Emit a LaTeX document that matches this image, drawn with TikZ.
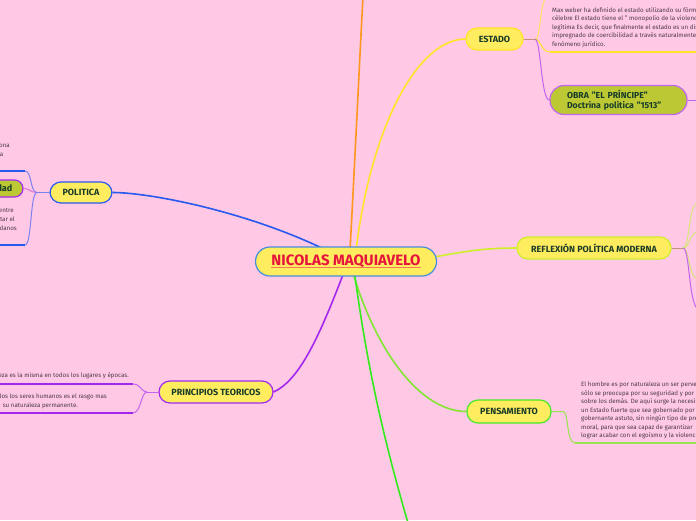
\documentclass[tikz,border=0pt]{standalone}
\usepackage{fontspec}
\setmainfont{Fira Sans}
\usetikzlibrary{calc}
\definecolor{bgpink}{RGB}{255,200,228}
\definecolor{nodeyel}{RGB}{255,236,95}
\definecolor{txtgreen}{RGB}{25,60,40}
\definecolor{olive}{RGB}{188,201,52}
\definecolor{cblue}{RGB}{70,140,220}
\definecolor{pblue}{RGB}{40,90,240}
\definecolor{lblue}{RGB}{125,130,240}
\definecolor{orng}{RGB}{255,150,30}
\definecolor{yel}{RGB}{255,228,40}
\definecolor{lyel}{RGB}{255,225,100}
\definecolor{purp}{RGB}{165,40,240}
\definecolor{lpurp}{RGB}{195,100,240}
\definecolor{pinkp}{RGB}{225,110,220}
\definecolor{grn}{RGB}{50,235,30}
\definecolor{pgrn}{RGB}{130,230,50}
\definecolor{lgrn}{RGB}{150,228,80}
\definecolor{ygrn}{RGB}{205,240,40}
\definecolor{lygrn}{RGB}{215,230,120}
\definecolor{brownl}{RGB}{195,145,120}
\definecolor{nred}{RGB}{230,20,60}
\definecolor{salmon}{RGB}{245,120,90}
\definecolor{gtxt}{RGB}{75,60,70}
\newlength\ulw
\newcommand\saluline[1]{\settowidth\ulw{#1}\rlap{\textcolor{salmon}{\rule[-2.6pt]{\ulw}{1.6pt}}}#1}
\pgfdeclarelayer{bglayer}
\pgfdeclarelayer{edges}
\pgfsetlayers{bglayer,edges,main}
\tikzset{
  topic/.style={draw, line width=1.2pt, fill=nodeyel, rounded corners=11pt,
    minimum height=22pt, inner sep=0pt, text=txtgreen,
    font=\bfseries\fontsize{9}{10}\selectfont},
  smalltxt/.style={inner sep=0pt, text=gtxt, font=\fontsize{6.2}{8.5}\selectfont},
  mainbr/.style={line width=1.6pt},
  subbr/.style={line width=1pt},
  uline/.style={line width=2pt},
}
\begin{document}
\begin{tikzpicture}[x=1pt,y=-1pt]
\useasboundingbox (0,0) rectangle (696,520);
\begin{pgfonlayer}{bglayer}
\fill[bgpink] (0,0) rectangle (696,520);
\end{pgfonlayer}

% main nodes
\node[topic, draw=cblue, minimum width=181pt, minimum height=29pt, rounded corners=14.5pt,
  text=nred, font=\bfseries\fontsize{15}{17}\selectfont] (central) at (346,261.5) {\saluline{NICOLAS MAQUIAVELO}};
\node[topic, draw=yel, minimum width=57pt] (estado) at (494.5,39) {ESTADO};
\node[topic, draw=pblue, minimum width=62pt, minimum height=21pt] (politica) at (81,192.5) {POLITICA};
\node[topic, draw=ygrn, minimum width=154pt] (reflexion) at (594,248) {REFLEXIÓN POLÍTICA MODERNA};
\node[topic, draw=purp, minimum width=114pt] (principios) at (216,392) {PRINCIPIOS TEORICOS};
\node[topic, draw=grn!80!lgrn, minimum width=84pt, minimum height=23pt] (pensamiento) at (509,411.5) {PENSAMIENTO};
\node[topic, draw=lpurp, fill=olive, minimum width=137pt, minimum height=29pt, rounded corners=14pt,
  text width=103pt, inner xsep=17pt, align=left, font=\bfseries\fontsize{8.7}{10}\selectfont] (obra) at (618.5,100)
  {OBRA "EL PRÍNCIPE"\\Doctrina politica "1513"};
\node[draw=purp, fill=olive, line width=1.2pt, rounded corners=8.5pt, minimum width=64pt,
  minimum height=17pt, inner sep=0pt] (dadbox) at (-9,188.5) {};
\node[anchor=base east, inner sep=0pt, text=txtgreen, font=\bfseries\fontsize{9}{10}\selectfont] (dadtxt) at (12.5,191.8) {dad};

% coordinates
\coordinate (top1) at (363,-3);
\coordinate (bot1) at (408,523);
\coordinate (ej) at (535,39);
\coordinate (pj) at (37,192.5);
\coordinate (prj) at (147,392);
\coordinate (rj) at (683,248);
\coordinate (pnj) at (563,411.5);

\begin{pgfonlayer}{edges}
% main branches
\draw[mainbr, orng] ($(central.north)+(4,4)$) .. controls (357,120) and (360,50) .. (top1);
\draw[mainbr, yel] ($(central.north)+(10,4)$) .. controls (372,120) and (420,39) .. (estado.west);
\draw[mainbr, pblue] ($(central.center)+(-16,-9.5)$) .. controls (250,212) and (150,192.5) .. (politica.east);
\draw[mainbr, purp] ($(central.center)+(-1,8)$) .. controls (320,335) and (300,380) .. (principios.east);
\draw[mainbr, pgrn] ($(central.center)+(6,8)$) .. controls (375,350) and (420,411.5) .. (pensamiento.west);
\draw[mainbr, grn] ($(central.center)+(8,8)$) .. controls (365,350) and (378,420) .. (bot1);
\draw[mainbr, ygrn] ($(central.east)+(-5,-4)$) .. controls (470,250) and (490,248) .. (reflexion.west);

% ESTADO sub-branches
\draw[subbr, brownl] (estado.east) -- (ej);
\draw[subbr, lyel] (ej) .. controls (541,39) and (539,8) .. (546,-3);
\draw[subbr, yel] (ej) .. controls (541,39) and (541,52) .. (550,52);
\draw[uline, yel] (550,52) -- (700,52);
\draw[subbr, lpurp] (ej) .. controls (541,40) and (541,100) .. (obra.west);
\draw[subbr, lpurp] (obra.east) -- (700,100);

% POLITICA sub-branches
\draw[subbr, lblue] (politica.west) -- (pj);
\draw[subbr, lblue] (pj) .. controls (30,192.5) and (32,171) .. (25,171);
\draw[uline, pblue] (25,171) -- (-3,171);
\draw[subbr, pinkp] (pj) .. controls (30,192.5) and (30,188.5) .. (dadbox.east);
\draw[subbr, lblue] (pj) .. controls (30,192.5) and (32,245) .. (25,245);
\draw[uline, pblue] (25,245) -- (-3,245);

% PRINCIPIOS sub-branches
\draw[subbr, lpurp] (principios.west) -- (prj);
\draw[subbr, lpurp] (prj) .. controls (141,392) and (141,384) .. (133,384);
\draw[uline, purp] (133,384) -- (-3,384);
\draw[subbr, lpurp] (prj) .. controls (141,392) and (141,413) .. (133,413);
\draw[uline, purp] (133,413) -- (-3,413);

% REFLEXION sub-branches
\draw[subbr, brownl] (reflexion.east) -- (rj);
\draw[subbr, lygrn] (rj) .. controls (690,248) and (688,204) .. (698,203);
\draw[subbr, lygrn] (rj) .. controls (690,248) and (689,233) .. (698,232);
\draw[subbr, lygrn] (rj) .. controls (690,248) and (688,278) .. (698,279);
\draw[subbr, lpurp] (rj) .. controls (690,249) and (688,300) .. (698,310);

% PENSAMIENTO sub-branch
\draw[subbr, lgrn] (pensamiento.east) -- (pnj) .. controls (569,411.5) and (566,443) .. (575,443);
\draw[uline, lgrn] (575,443) -- (700,443);
\end{pgfonlayer}

% ESTADO text
\node[smalltxt, anchor=base west] (mw1) at (552,12) {Max weber ha definido el estado utilizando su fórmula};
\node[smalltxt, anchor=base west] (mw2) at (552,20.5) {célebre El estado tiene el " monopolio de la violencia};
\node[smalltxt, anchor=base west] (mw3) at (552,29) {legítima Es decir, que finalmente el estado es un dispositivo};
\node[smalltxt, anchor=base west] (mw4) at (552,37.5) {impregnado de coercibilidad a través naturalmente del};
\node[smalltxt, anchor=base west] (mw5) at (552,46) {fenómeno jurídico.};

% PENSAMIENTO text
\node[smalltxt, anchor=base west] (pt1) at (581,386.5) {El hombre es por naturaleza un ser perverso};
\node[smalltxt, anchor=base west] (pt2) at (581,395) {sólo se preocupa por su seguridad y por a};
\node[smalltxt, anchor=base west] (pt3) at (581,403.5) {sobre los demás. De aquí surge la necesidad};
\node[smalltxt, anchor=base west] (pt4) at (581,412) {un Estado fuerte que sea gobernado por un};
\node[smalltxt, anchor=base west] (pt5) at (581,420.5) {gobernante astuto, sin ningún tipo de prejuicio};
\node[smalltxt, anchor=base west] (pt6) at (581,429) {moral, para que sea capaz de garantizar};
\node[smalltxt, anchor=base west] (pt7) at (581,437.5) {lograr acabar con el egoísmo y la violencia};

% PRINCIPIOS text
\node[smalltxt, anchor=base east] (pr1) at (129,377.5) {eza es la misma en todos los lugares y épocas.};
\node[smalltxt, anchor=base east] (pr2) at (107,398.5) {los los seres humanos es el rasgo mas};
\node[smalltxt, anchor=base east] (pr3) at (78,407.5) {su naturaleza permanente.};

% POLITICA text fragments
\node[smalltxt, anchor=base east] (po1) at (10,147.5) {ona};
\node[smalltxt, anchor=base east] (po2) at (3.5,156.5) {a};
\node[smalltxt, anchor=base east] (po3) at (14,212.5) {entre};
\node[smalltxt, anchor=base east] (po4) at (15,221.5) {tar el};
\node[smalltxt, anchor=base east] (po5) at (17,230.5) {danos};
\end{tikzpicture}
\end{document}
